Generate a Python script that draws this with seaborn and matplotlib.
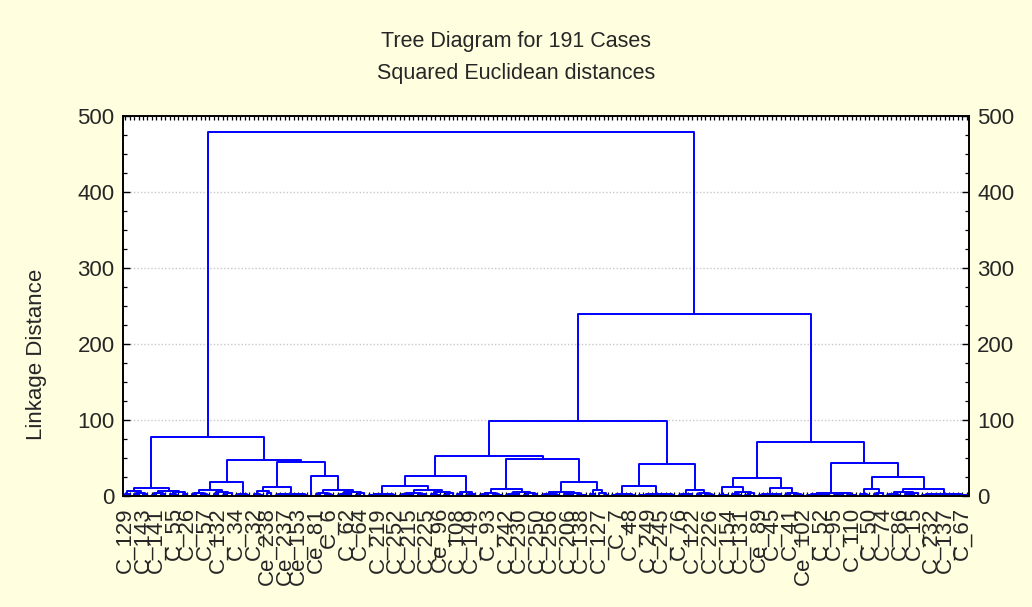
import numpy as np
import pandas as pd
import matplotlib
matplotlib.use("Agg")
import matplotlib.pyplot as plt
from matplotlib.ticker import MultipleLocator, FixedLocator
import seaborn as sns

# ---- merge tree: (linkage distance, left, right); 0 = a single case ----
# left main cluster
A1L = (6.6, (2.5, 0, 0), (4.5, (2.0, 0, 0), (3.0, 0, 0)))
A1R = (6.6, (4.0, (1.5, 0, 0), (2.5, 0, 0)), (5.0, (3.0, 0, (1.2, 0, 0)), (2.0, 0, 0)))
A1 = (10.5, A1L, A1R)
A2a_L = (7.9, (4.5, (2.0, 0, 0), (3.0, 0, (1.0, 0, 0))), (5.5, (2.5, 0, 0), (3.5, (1.5, 0, 0), 0)))
A2a_R = (2.2, (1.0, 0, 0), (1.5, 0, 0))
A2a = (18.4, A2a_L, A2a_R)
A2b_LL = (6.6, (3.0, 0, (1.5, 0, 0)), (4.0, 0, 0))
A2b_LR = (3.0, (2.0, (1.0, 0, 0), (1.2, 0, 0)), (2.5, (1.5, 0, 0), (0.8, 0, 0)))
A2b_L = (12.3, A2b_LL, A2b_LR)
A2b_RR = (7.9, (4.0, (2.0, 0, 0), (3.0, 0, (1.5, 0, 0))),
          (5.5, (3.0, (1.5, 0, 0), (2.0, 0, 0)), (4.0, (1.0, 0, 0), 0)))
A2b_R = (26.7, 0, A2b_RR)
A2b = (44.7, A2b_L, A2b_R)
A2 = (47.0, A2a, A2b)
A = (77.6, A1, A2)

# right main cluster, left branch
BLL1_LL = (2.5, (1.5, (0.8, 0, 0), 0), (2.0, (1.0, 0, 0), (1.2, 0, 0)))
BLL1_LR = (7.9, (4.0, (2.5, (1.0, 0, 0), (1.5, 0, 0)), (3.0, 0, (2.0, 0, 0))),
           (5.0, (2.0, 0, (1.0, 0, 0)), (3.5, (1.5, 0, 0), 0)))
BLL1_L = (13.6, BLL1_LL, BLL1_LR)
BLL1_R = (4.8, (2.0, 0, 0), (3.0, (1.2, 0, 0), 0))
BLL1 = (26.3, BLL1_L, BLL1_R)
BLL2_L = (9.6, (4.5, (2.0, (1.0, 0, 0), 0), (3.0, 0, (1.5, 0, 0))),
          (5.5, (3.0, (1.5, 0, 0), (2.0, 0, 0)), (4.0, (1.2, 0, 0), (2.5, 0, 0))))
BLL2_RL = (5.0, (3.0, (1.5, 0, 0), (2.0, 0, (0.8, 0, 0))),
           (4.0, (2.5, 0, (1.0, 0, 0)), (1.5, 0, (0.7, 0, 0))))
BLL2_RR = (7.9, (2.0, 0, 0), (3.5, 0, (1.5, 0, 0)))
BLL2_R = (18.0, BLL2_RL, BLL2_RR)
BLL2 = (48.3, BLL2_L, BLL2_R)
BLL = (52.6, BLL1, BLL2)
BLR_LL = (2.5, (1.2, 0, (0.6, 0, 0)), (2.0, 0, (0.8, 0, 0)))
BLR_LR = (2.6, (1.8, (1.0, 0, 0), (1.2, 0, 0)), (2.2, (1.5, 0, (0.7, 0, 0)), (0.9, 0, 0)))
BLR_L = (13.2, BLR_LL, BLR_LR)
BLR_R = (7.9, (3.0, (1.5, 0, 0), (2.0, 0, 0)), (4.5, (2.5, 0, 0), (3.0, 0, (1.0, 0, 0))))
BLR = (41.7, BLR_L, BLR_R)
BL = (99.0, BLL, BLR)

# right main cluster, right branch
BRL_LL = (1.8, 0, (1.0, 0, 0))
BRL_LR = (5.7, (2.5, 0, (1.5, 0, 0)), (3.5, (1.0, 0, 0), 0))
BRL_L = (12.3, BRL_LL, BRL_LR)
BRL_RL = (2.8, (1.5, 0, (0.8, 0, 0)), (2.0, (1.0, 0, 0), 0))
BRL_RR = (3.9, (1.5, 0, 0), (2.5, 0, (1.0, 0, 0)))
BRL_R = (10.1, BRL_RL, BRL_RR)
BR_L = (23.2, BRL_L, BRL_R)
BRR_L = (4.4, (3.0, (1.5, 0, (0.8, 0, 0)), (2.0, 0, (1.0, 0, 0))),
         (3.5, (2.5, (1.2, 0, 0), 0), (1.8, 0, (0.9, 0, 0))))
BRRR_L = (8.8, (3.0, 0, (1.5, 0, 0)), (4.0, (2.0, 0, 0), 0))
BRRR_R = (9.2, (5.0, (2.5, (1.2, 0, 0), (1.8, 0, 0)), (3.5, (2.0, 0, (0.9, 0, 0)), 0)),
          (3.2, (2.4, (1.5, 0, (0.8, 0, 0)), (1.0, 0, 0)),
           (2.8, (2.0, (1.1, 0, 0), 0), (1.6, 0, (0.7, 0, 0)))))
BRR_R = (24.6, BRRR_L, BRRR_R)
BR_R = (43.0, BRR_L, BRR_R)
BR = (70.6, BR_L, BR_R)
B = (239.5, BL, BR)

ROOT = (478.5, A, B)

n_cases = 191
case_labels = ["C_129", "C_143", "C_141", "C_55", "C_26", "C_57", "C_132", "C_34", "C_32",
               "Ce_238", "Ce_237", "Ce_153", "Ce_81", "C_6", "C_62", "C_64", "C_219",
               "C_252", "C_215", "C_225", "Ce_96", "C_108", "C_149", "C_93", "C_242",
               "C_230", "C_250", "C_256", "C_206", "C_138", "C_127", "C_7", "C_48",
               "C_249", "C_245", "C_76", "C_122", "C_226", "C_154", "C_131", "Ce_89",
               "C_45", "C_41", "Ce_102", "C_52", "C_95", "C_110", "C_50", "C_74",
               "C_86", "C_15", "C_232", "C_137", "C_67"]
y_ticks = [0, 100, 200, 300, 400, 500]


# ---- lay out the tree: each case sits at i + 0.5 on the x axis ----
def layout(node, start, rows, counter):
    if not isinstance(node, tuple):
        return start + 0.5, 0.0, start + 1
    h, left, right = node
    xl, hl, nxt = layout(left, start, rows, counter)
    xr, hr, nxt = layout(right, nxt, rows, counter)
    sid = counter[0]
    counter[0] += 1
    for k, (x, y) in enumerate([(xl, hl), (xl, h), (xr, h), (xr, hr)]):
        rows.append((sid, k, x, y))
    return (xl + xr) / 2.0, h, nxt


rows = []
layout(ROOT, 0, rows, [0])
seg = pd.DataFrame(rows, columns=["link", "step", "x", "distance"])

sns.set_style("white")
plt.rcParams["font.family"] = ["Liberation Sans", "DejaVu Sans"]

fig = plt.figure(figsize=(10.32, 6.07), dpi=100, facecolor="#FFFFE0")
ax = fig.add_axes([123 / 1032, 1 - 496 / 607, 846 / 1032, 380 / 607])
ax.set_facecolor("white")

ax.yaxis.grid(True, linestyle=(0, (1, 1.5)), color="#c8c8c8", linewidth=1.0)
ax.set_axisbelow(True)

sns.lineplot(data=seg, x="x", y="distance", units="link", estimator=None, sort=False,
             color="#0000ff", linewidth=1.4, ax=ax, legend=False)

ax.set_xlim(0, n_cases)
ax.set_ylim(0, 500)

# case labels along the bottom
label_pos = np.round(np.linspace(0, 189, len(case_labels))) + 0.5
ax.xaxis.set_major_locator(FixedLocator(label_pos))
ax.set_xticklabels(case_labels, rotation=90, fontsize=16)
ax.xaxis.set_minor_locator(FixedLocator(np.arange(n_cases) + 0.5))
ax.tick_params(axis="x", which="both", direction="in", length=3, width=0.9,
               top=True, bottom=True, color="black", pad=8)

ax.yaxis.set_major_locator(FixedLocator(y_ticks))
ax.yaxis.set_minor_locator(MultipleLocator(25))
ax.tick_params(axis="y", which="both", direction="in", left=True, right=True,
               labelleft=True, labelright=True, labelsize=16, color="black", pad=6)
ax.tick_params(axis="y", which="major", length=5, width=1.0)
ax.tick_params(axis="y", which="minor", length=3, width=0.9)

for s in ax.spines.values():
    s.set_color("black")
    s.set_linewidth(1.4)

ax.set_xlabel("")
ax.set_ylabel("")
fig.text(37 / 1032, 1 - 354 / 607, "Linkage Distance", rotation=90, fontsize=16,
         ha="center", va="center")
fig.text(0.5, 1 - 42 / 607, "Tree Diagram for 191 Cases", fontsize=15.5,
         ha="center", va="center")
fig.text(0.5, 1 - 73 / 607, "Squared Euclidean distances", fontsize=15.5,
         ha="center", va="center")

fig.savefig("out.png", dpi=100, facecolor=fig.get_facecolor())
